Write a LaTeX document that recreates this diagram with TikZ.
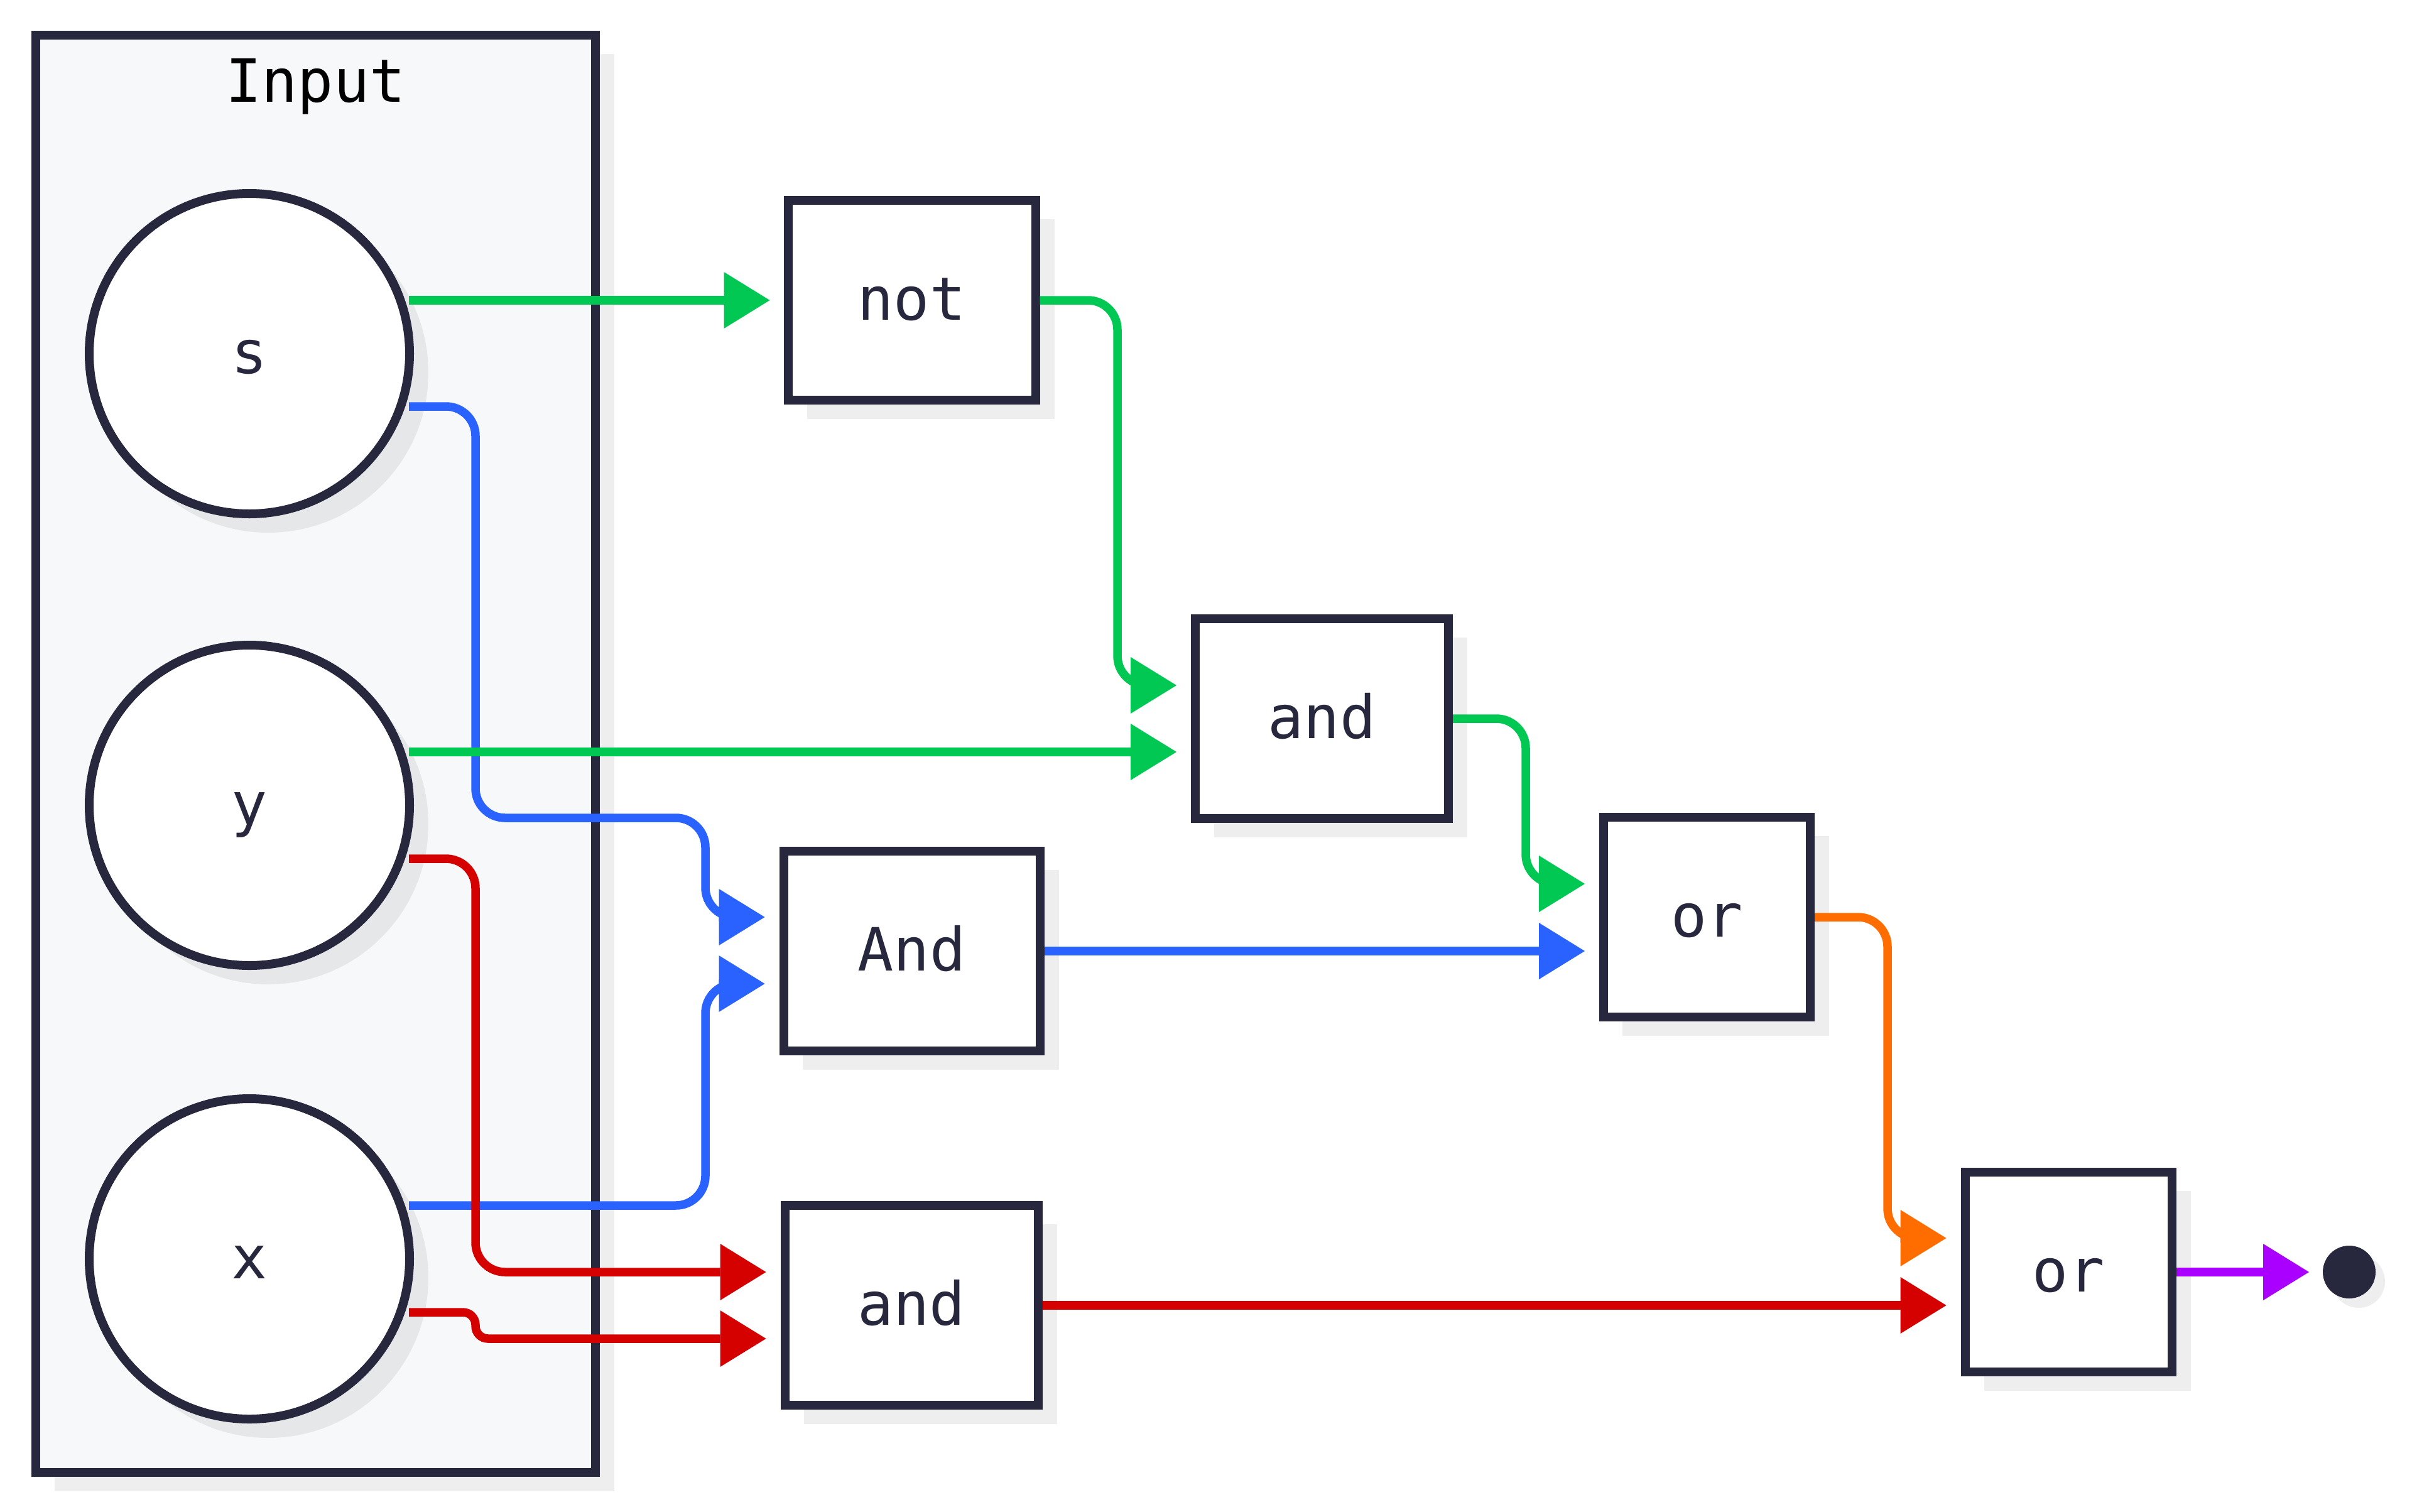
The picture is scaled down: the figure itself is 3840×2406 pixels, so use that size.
\documentclass[tikz,border=0pt]{standalone}
\usepackage{fontspec}
\newfontfamily\lblfont{DejaVu Sans Mono}
\usetikzlibrary{arrows.meta,calc,shadows}
\definecolor{navy}{RGB}{39,39,62}
\definecolor{cfill}{RGB}{247,248,250}
\definecolor{cgreen}{HTML}{00C853}
\definecolor{cblue}{HTML}{2962FF}
\definecolor{cred}{HTML}{D50000}
\definecolor{corange}{HTML}{FF6D00}
\definecolor{cpurple}{HTML}{AA00FF}
\begin{document}
\begin{tikzpicture}[x=1pt,y=1pt,
  shd/.style={drop shadow={shadow xshift=30pt,shadow yshift=-30pt,opacity=0.065,fill=black}},
  lbl/.style={font=\lblfont\fontsize{95pt}{100pt}\selectfont},
  gate/.style={draw=navy,line width=14pt,fill=white,inner sep=0pt,text=navy,lbl,
     text height=62pt,text depth=0pt,shd},
  gatebox/.style={gate,rectangle,minimum height=318pt},
  inport/.style={gate,circle,minimum size=510pt},
  wire/.style={line width=13.5pt,rounded corners=47pt,
     -{Triangle[length=73pt,width=90pt,line width=0pt]}},
]
\useasboundingbox (0,0) rectangle (3840,-2406);
\fill[white] (0,0) rectangle (3840,-2406);

% container
\node[draw=navy,line width=14pt,fill=cfill,minimum width=891pt,minimum height=2288pt,
      inner sep=0pt,shd] (input) at (502.5,-1200) {};
\node[lbl,text=black,anchor=base,inner sep=0pt] (inputlabel) at (502.5,-162) {Input};

% inputs
\node[inport] (nS) at (397,-563) {s};
\node[inport] (nY) at (397,-1282) {y};
\node[inport] (nX) at (397,-2004) {x};

% gates
\node[gatebox,minimum width=394pt] (not) at (1451.5,-478) {not};
\node[gatebox,minimum width=408pt] (And) at (1451.5,-1514) {And};
\node[gatebox,minimum width=403pt] (and2) at (1451,-2078) {and};
\node[gatebox,minimum width=403pt] (and1) at (2104.5,-1144) {and};
\node[gatebox,minimum width=329pt] (or1) at (2717.5,-1460) {or};
\node[gatebox,minimum width=329pt] (or2) at (3293,-2025) {or};
\node[circle,fill=navy,minimum size=84pt,inner sep=0pt,outer sep=0pt,
      drop shadow={shadow xshift=15pt,shadow yshift=-15pt,opacity=0.065,fill=black}] (out) at (3740,-2025) {};

% connectors
\draw[wire,cblue] ($(nS.center)+(254,-84)$) -- (757,-647) -- (757,-1302) -- (1123,-1302)
   -- (1123,-1460) -- ([xshift=-23pt,yshift=54pt]And.west);
\draw[wire,cblue] ($(nX.center)+(254,85)$) -- (1123,-1919) -- (1123,-1566)
   -- ([xshift=-23pt,yshift=-52pt]And.west);
\draw[wire,cred] ($(nY.center)+(254,-85)$) -- (757,-1367) -- (757,-2025)
   -- ([xshift=-23pt,yshift=53pt]and2.west);
\draw[wire,cred,rounded corners=20pt] ($(nX.center)+(254,-85)$) -- (757,-2089) -- (757,-2131)
   -- ([xshift=-23pt,yshift=-53pt]and2.west);
\draw[wire,cgreen] ($(nS.center)+(254,85)$) -- ([xshift=-22pt]not.west);
\draw[wire,cgreen] ($(nY.center)+(254,85)$) -- ([xshift=-23pt,yshift=-53pt]and1.west);
\draw[wire,cgreen] (not.east) -- (1779,-478) -- (1779,-1091)
   -- ([xshift=-23pt,yshift=53pt]and1.west);
\draw[wire,cgreen] (and1.east) -- (2429,-1144) -- (2429,-1407)
   -- ([xshift=-23pt,yshift=53pt]or1.west);
\draw[wire,cblue] (And.east) -- ([xshift=-23pt,yshift=-54pt]or1.west);
\draw[wire,corange] (or1.east) -- (3005,-1460) -- (3005,-1971)
   -- ([xshift=-23pt,yshift=54pt]or2.west);
\draw[wire,cred] (and2.east) -- ([xshift=-23pt,yshift=-53pt]or2.west);
\draw[wire,cpurple] (or2.east) -- ([xshift=-22pt]out.west);
\end{tikzpicture}
\end{document}
